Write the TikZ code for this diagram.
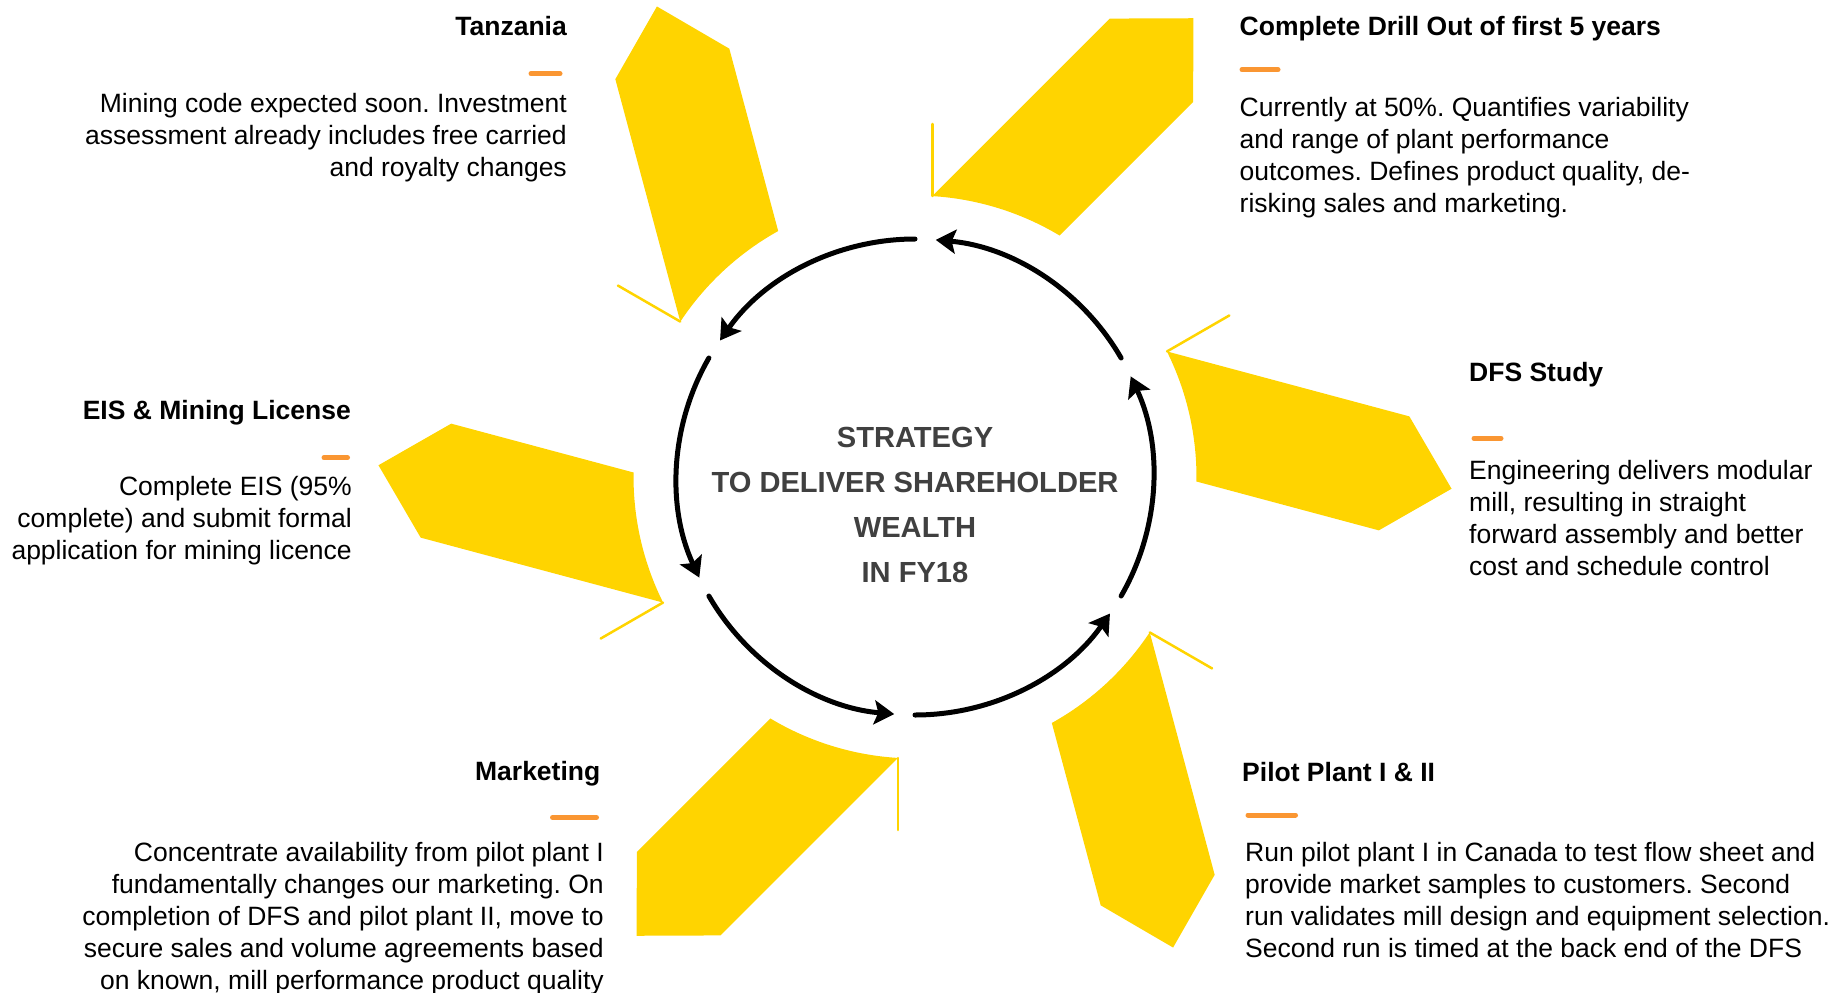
\documentclass[tikz,border=0pt]{standalone}
\usepackage{fontspec}
\setmainfont{Liberation Sans}
\usetikzlibrary{arrows.meta}
\definecolor{sunyellow}{RGB}{255,212,0}
\definecolor{dashorange}{RGB}{250,150,50}
\definecolor{centergray}{RGB}{64,64,64}
\frenchspacing
\begin{document}
\begin{tikzpicture}[x=1pt,y=1pt,
  petal/.style={fill=sunyellow},
  petalline/.style={draw=sunyellow, line width=2.5pt, line cap=round},
  cyc/.style={line width=5pt, line cap=round, -{Stealth[length=20pt,width=24pt,inset=4pt]}},
  ttl/.style={inner sep=0pt, font=\bfseries\fontsize{26.5}{32}\selectfont},
  body/.style={inner sep=0pt, font=\fontsize{26.5}{32}\selectfont},
  odash/.style={draw=dashorange, line width=5pt, line cap=round}
]
\useasboundingbox (0,0) rectangle (1839,-993);
\coordinate (C) at (915,-477);

% yellow petals
\foreach \r in {105,45,-15,-75,-135,165}{
  \begin{scope}[shift={(C)}, rotate=\r]
    \fill[petal] (210.9,186.5) -- (461.8,186.5) -- (521.3,127.5) -- (461.8,68.5) -- (273.0,68.5)
      arc[start angle=14.09, end angle=41.49, radius=281.5] -- cycle;
    \draw[petalline] (210.9,186.5) -- ++(45:72);
  \end{scope}
}

% cycle arrows
\begin{scope}[shift={(C)}]
  \foreach \a in {90,150,210,270,330,30}{
    \draw[cyc] (\a:238) arc[start angle=\a, end angle=\a+55, radius=238];
  }
\end{scope}

% centre text
\node[anchor=base, inner sep=0pt, text=centergray, font=\bfseries\fontsize{29.1}{45}\selectfont] (ctr) at (915,-447.7)
  {\begin{tabular}[t]{@{}c@{}}STRATEGY\\TO DELIVER SHAREHOLDER\\WEALTH\\IN FY18\end{tabular}};

% Tanzania
\node[ttl, anchor=base east] (tzT) at (567,-35) {Tanzania};
\draw[odash] (531,-73.7) -- (560,-73.7);
\node[body, anchor=base east] (tzB) at (567,-112.3)
  {\begin{tabular}[t]{@{}r@{}}Mining code expected soon. Investment\\assessment already includes free carried\\and royalty changes\end{tabular}};

% Drill
\node[ttl, anchor=base west] (drT) at (1239.5,-35) {Complete Drill Out of first 5 years};
\draw[odash] (1242,-69.7) -- (1278,-69.7);
\node[body, anchor=base west] (drB) at (1239.5,-116.2)
  {\begin{tabular}[t]{@{}l@{}}Currently at 50\%. Quantifies variability\\and range of plant performance\\outcomes. Defines product quality, de-\\risking sales and marketing.\end{tabular}};

% DFS
\node[ttl, anchor=base west] (dfT) at (1469,-381.7) {DFS Study};
\draw[odash] (1474,-438.3) -- (1501,-438.3);
\node[body, anchor=base west] (dfB) at (1469,-479.5)
  {\begin{tabular}[t]{@{}l@{}}Engineering delivers modular\\mill, resulting in straight\\forward assembly and better\\cost and schedule control\end{tabular}};

% EIS
\node[ttl, anchor=base east] (eiT) at (351,-419.3) {EIS \& Mining License};
\draw[odash] (324,-457.7) -- (347.5,-457.7);
\node[body, anchor=base east] (eiB) at (352,-495.2)
  {\begin{tabular}[t]{@{}r@{}}Complete EIS (95\%\\complete) and submit formal\\application for mining licence\end{tabular}};

% Marketing
\node[ttl, anchor=base east] (mkT) at (600.5,-780.7) {Marketing};
\draw[odash] (552.5,-817.5) -- (596.5,-817.5);
\node[body, anchor=base east] (mkB) at (604,-861.2)
  {\begin{tabular}[t]{@{}r@{}}Concentrate availability from pilot plant I\\fundamentally changes our marketing. On\\completion of DFS and pilot plant II, move to\\secure sales and volume agreements based\\on known, mill performance product quality\end{tabular}};

% Pilot
\node[ttl, anchor=base west] (plT) at (1242,-781) {Pilot Plant I \& II};
\draw[odash] (1248,-815) -- (1295.5,-815);
\node[body, anchor=base west] (plB) at (1245,-861.2)
  {\begin{tabular}[t]{@{}l@{}}Run pilot plant I in Canada to test flow sheet and\\provide market samples to customers. Second\\run validates mill design and equipment selection.\\Second run is timed at the back end of the DFS\end{tabular}};
\end{tikzpicture}
\end{document}
